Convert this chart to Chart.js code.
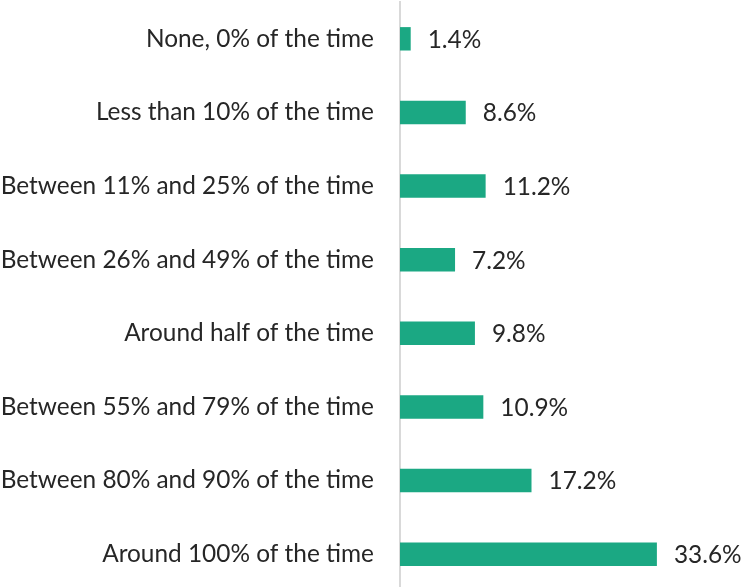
<!DOCTYPE html>
<html>
<head>
<meta charset="utf-8">
<script src="https://cdn.jsdelivr.net/npm/chart.js@4"></script>
<style>
  html, body { margin: 0; padding: 0; background: #fff; overflow: hidden; }
  #wrap { position: relative; width: 741px; height: 591px; }
</style>
</head>
<body>
<div id="wrap"><canvas id="barChart"></canvas></div>
<script>
const categories = [
    'None, 0% of the time',
    'Less than 10% of the time',
    'Between 11% and 25% of the time',
    'Between 26% and 49% of the time',
    'Around half of the time',
    'Between 55% and 79% of the time',
    'Between 80% and 90% of the time',
    'Around 100% of the time'
];
const values = [1.4, 8.6, 11.2, 7.2, 9.8, 10.9, 17.2, 33.6];

const FONT = 'Lato, "Open Sans", sans-serif';
const FONT_SIZE = 24.4;
const TEXT_COLOR = '#262626';

// value labels to the right of each bar
Chart.register({
    id: 'valueLabels',
    afterDatasetsDraw(chart) {
        const { ctx } = chart;
        const meta = chart.getDatasetMeta(0);
        ctx.save();
        ctx.font = `${FONT_SIZE}px ${FONT}`;
        ctx.fillStyle = TEXT_COLOR;
        ctx.textAlign = 'left';
        ctx.textBaseline = 'middle';
        meta.data.forEach((bar, i) => {
            ctx.fillText(values[i].toFixed(1) + '%', bar.x + 17, bar.y + 1);
        });
        ctx.restore();
    }
});

document.addEventListener('DOMContentLoaded', function() {
    const ctx = document.getElementById('barChart').getContext('2d');

    new Chart(ctx, {
        type: 'bar',
        data: {
            labels: categories,
            datasets: [{
                data: values,
                backgroundColor: '#1BA883',
                borderWidth: 0,
                categoryPercentage: 1,
                barPercentage: 0.318
            }]
        },
        options: {
            indexAxis: 'y',
            responsive: true,
            maintainAspectRatio: false,
            animation: false,
            layout: { padding: { top: 2, bottom: 0, left: 0, right: 0 } },
            plugins: {
                legend: { display: false },
                tooltip: { enabled: false }
            },
            scales: {
                x: {
                    display: false,
                    min: 0,
                    max: 44.6
                },
                y: {
                    grid: { display: false, drawTicks: false },
                    border: { display: true, color: '#d9d9d9', width: 2 },
                    ticks: {
                        padding: 26,
                        color: TEXT_COLOR,
                        font: { family: FONT, size: FONT_SIZE }
                    },
                    afterFit(scale) {
                        scale.width = 400;
                        // tick padding would otherwise push the plot down
                        scale.paddingTop = 0;
                        scale.paddingBottom = 0;
                    }
                }
            }
        }
    });
});
</script>
</body>
</html>
